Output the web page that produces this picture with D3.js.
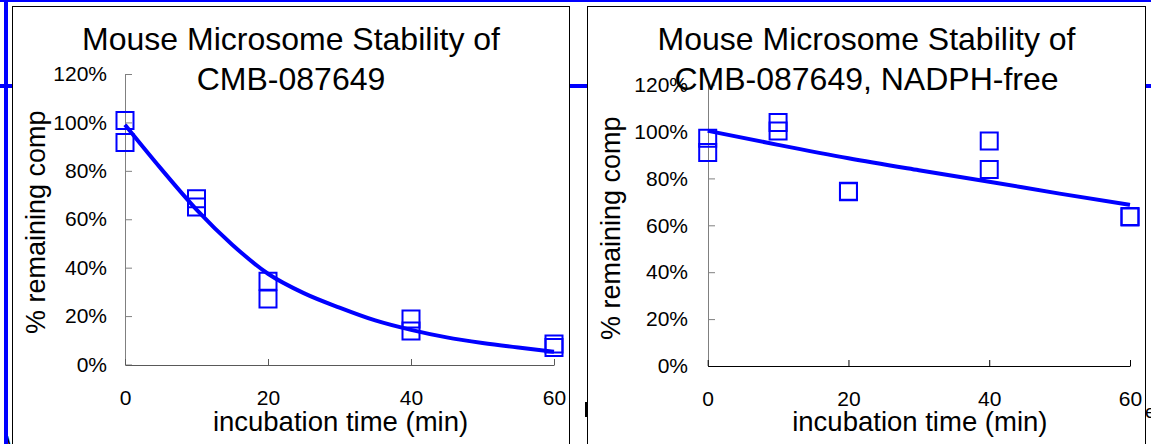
<!DOCTYPE html>
<html>
<head>
<meta charset="utf-8">
<script src="https://cdn.jsdelivr.net/npm/d3@7"></script>
<style>
	html, body { margin: 0; padding: 0; background: #fff; overflow: hidden; }
	svg { display: block; font-family: 'Liberation Sans', Arial, sans-serif; }
</style>
</head>
<body>
<svg id="bg_svg" width="1151" height="444"></svg>
<script>
//sampling times (min)
var timePoints = [0, 10, 20, 40, 60];
var xTicks = [0, 20, 40, 60];
var yTicks = [0, 20, 40, 60, 80, 100, 120];

//with NADPH, two replicates (% remaining)
var withRep1 = [100.8, 68.5, 34.4, 18.8, 8.5];
var withRep2 = [91.7, 65.1, 27.1, 13.8, 7.0];
//fitted curve
var withFitTime = [0, 5, 10, 15, 20, 25, 30, 35, 40, 45, 50, 55, 60];
var withFitVal = [99, 81, 64, 49.5, 37.5, 29.5, 23.5, 18.2, 14.3, 11.2, 8.9, 7.0, 5.3];

//NADPH-free, two replicates
var freeRep1 = [97.1, 103.8, 74.5, 95.9, 63.7];
var freeRep2 = [91.0, 100.2, 74.3, 83.8, 63.5];
var freeFitTime = [0, 10, 20, 30, 40, 50, 60];
var freeFitVal = [100.3, 94.3, 88.6, 83.5, 78.6, 73.5, 68.7];

var svg = d3.select('svg');
var blue = '#0000ff';

//background document decorations (blue frame lines)
svg.append('rect').attr('x', 0).attr('y', 0).attr('width', 1151).attr('height', 2).attr('fill', blue);
svg.append('rect').attr('x', 4).attr('y', 0).attr('width', 4).attr('height', 444).attr('fill', blue);
svg.append('rect').attr('x', 0).attr('y', 84).attr('width', 1151).attr('height', 4).attr('fill', blue);

//clipped letters of the page underneath
svg.append('clipPath').attr('id', 'clip_w')
	.append('rect').attr('x', 8).attr('y', 420).attr('width', 5).attr('height', 30);
svg.append('text').attr('x', 6).attr('y', 450)
	.attr('clip-path', 'url(#clip_w)')
	.style('font-size', '20px').text('W');
svg.append('rect').attr('x', 585).attr('y', 402).attr('width', 2).attr('height', 15).attr('fill', '#000');
svg.append('text').attr('x', 1145).attr('y', 418)
	.style('font-size', '19px').text('e');

drawPanel({
	box: [12.5, 6.5, 557, 460],
	xRange: [125, 554],
	yRange: [364.5, 74],
	yAxisColor: '#808080',
	xAxisColor: '#595959',
	labelPad: 18,
	yTitleOff: 80,
	title: ['Mouse Microsome Stability of', 'CMB-087649'],
	rep1: withRep1,
	rep2: withRep2,
	fitT: withFitTime,
	fitV: withFitVal
});

drawPanel({
	box: [587.5, 6.5, 558, 460],
	xRange: [707.7, 1130],
	yRange: [366, 84.6],
	yAxisColor: '#808080',
	xAxisColor: '#000',
	labelPad: 20,
	yTitleOff: 88,
	title: ['Mouse Microsome Stability of', 'CMB-087649, NADPH-free'],
	rep1: freeRep1,
	rep2: freeRep2,
	fitT: freeFitTime,
	fitV: freeFitVal
});

function drawPanel(p) {
	var g = svg.append('g');
	var bx = p.box[0], by = p.box[1], bw = p.box[2], bh = p.box[3];

	//white panel with black border (covers the blue line)
	g.append('rect')
		.attr('x', bx).attr('y', by)
		.attr('width', bw).attr('height', bh)
		.attr('fill', '#fff')
		.attr('stroke', '#000')
		.attr('stroke-width', 1);

	var x = d3.scaleLinear().domain([0, 60]).range(p.xRange);
	var y = d3.scaleLinear().domain([0, 120]).range(p.yRange);

	//y axis, ticks pointing inside
	var gy = g.append('g')
		.attr('transform', 'translate(' + Math.round(p.xRange[0]) + ',0)')
		.call(d3.axisLeft(y)
			.tickValues(yTicks)
			.tickSize(-7)
			.tickSizeOuter(0)
			.tickPadding(p.labelPad)
			.tickFormat(d => d + '%'));
	gy.select('.domain').attr('stroke', p.yAxisColor);
	gy.selectAll('.tick line').attr('stroke', p.yAxisColor);
	gy.selectAll('.tick text')
		.attr('fill', '#000')
		.style('font-size', '21px')
		.style('font-family', "'Liberation Sans', Arial, sans-serif");

	//x axis
	var gx = g.append('g')
		.attr('transform', 'translate(0,' + Math.round(p.yRange[0]) + ')')
		.call(d3.axisBottom(x)
			.tickValues(xTicks)
			.tickSize(-6)
			.tickSizeOuter(0)
			.tickPadding(25));
	gx.select('.domain').attr('stroke', p.xAxisColor);
	gx.selectAll('.tick line').attr('stroke', p.xAxisColor);
	gx.selectAll('.tick text')
		.attr('fill', '#000')
		.style('font-size', '21px')
		.style('font-family', "'Liberation Sans', Arial, sans-serif");

	//axis titles
	var cx = bx + bw / 2;
	var midY = (p.yRange[0] + p.yRange[1]) / 2 + 3;
	g.append('text')
		.attr('transform', 'translate(' + (p.xRange[0] - p.yTitleOff) + ',' + midY + ') rotate(-90)')
		.attr('text-anchor', 'middle')
		.style('font-size', '27px')
		.text('% remaining comp');
	g.append('text')
		.attr('x', (p.xRange[0] + p.xRange[1]) / 2 + 1)
		.attr('y', 431)
		.attr('text-anchor', 'middle')
		.style('font-size', '27.5px')
		.text('incubation time (min)');

	//markers, two replicates per time point
	var sym = d3.symbol().type(d3.symbolSquare).size(17 * 17);
	[p.rep1, p.rep2].forEach(function(rep) {
		g.append('g').selectAll('path')
			.data(rep)
			.join('path')
			.attr('d', sym)
			.attr('transform', (d, i) => 'translate(' + x(timePoints[i]) + ',' + y(d) + ')')
			.attr('fill', 'none')
			.attr('stroke', blue)
			.attr('stroke-width', 2);
	});

	//fitted decay curve
	var fit = p.fitT.map((t, i) => ({t: t, v: p.fitV[i]}));
	var line = d3.line(d => x(d.t), d => y(d.v)).curve(d3.curveMonotoneX);
	g.append('path')
		.attr('d', line(fit))
		.attr('fill', 'none')
		.attr('stroke', blue)
		.attr('stroke-width', 4)
		.attr('stroke-linejoin', 'round');

	//chart title (drawn last, it overlaps the 120% label on the right)
	p.title.forEach(function(t, i) {
		g.append('text')
			.attr('x', cx)
			.attr('y', 50 + i * 40)
			.attr('text-anchor', 'middle')
			.style('font-size', '32px')
			.text(t);
	});
}
</script>
</body>
</html>
